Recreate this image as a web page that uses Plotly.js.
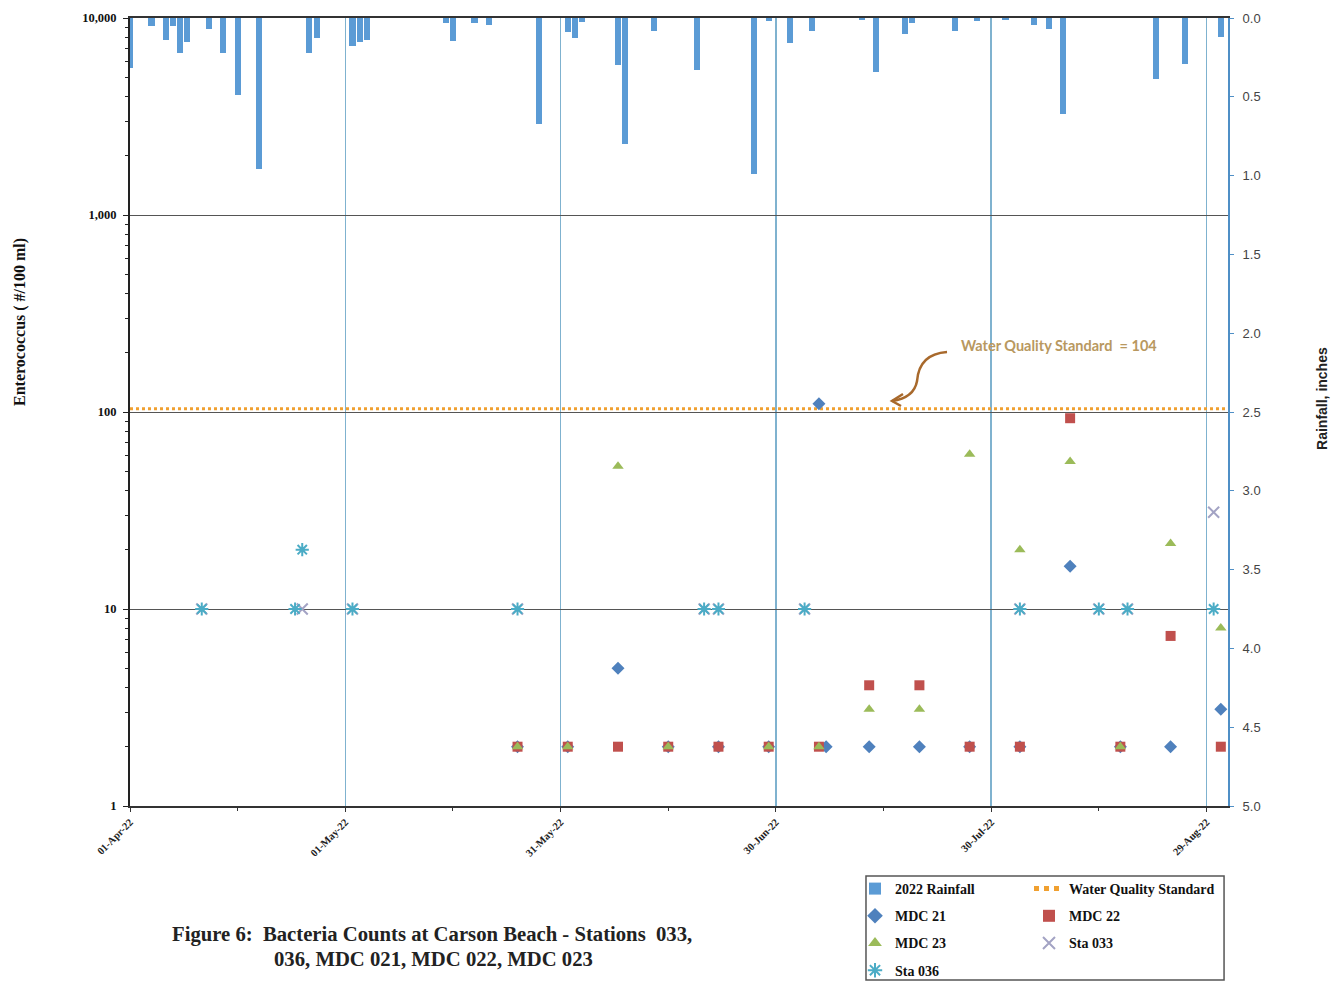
<!DOCTYPE html>
<html>
<head>
<meta charset="utf-8">
<script src="https://cdn.plot.ly/plotly-3.0.1.min.js"></script>
<style>html,body{margin:0;padding:0;background:#fff;}#chart{width:1340px;height:982px;}</style>
</head>
<body>
<div id="chart"></div>
<script>
// ---------- DATA ----------
const rainDates = ['2022-04-01','2022-04-04','2022-04-06','2022-04-07','2022-04-08','2022-04-09','2022-04-12','2022-04-14','2022-04-16','2022-04-19','2022-04-26','2022-04-27','2022-05-02','2022-05-03','2022-05-04','2022-05-15','2022-05-16','2022-05-19','2022-05-21','2022-05-28','2022-06-01','2022-06-02','2022-06-03','2022-06-08','2022-06-09','2022-06-13','2022-06-19','2022-06-27','2022-06-29','2022-07-02','2022-07-05','2022-07-12','2022-07-14','2022-07-18','2022-07-19','2022-07-25','2022-07-28','2022-08-01','2022-08-05','2022-08-07','2022-08-09','2022-08-22','2022-08-26','2022-08-31'];
const rainInches = [0.32,0.05,0.14,0.05,0.22,0.15,0.07,0.22,0.49,0.96,0.22,0.13,0.18,0.15,0.14,0.03,0.145,0.03,0.045,0.67,0.09,0.13,0.025,0.30,0.80,0.08,0.33,0.99,0.02,0.16,0.08,0.01,0.34,0.10,0.03,0.085,0.02,0.01,0.045,0.07,0.61,0.39,0.29,0.12];

const wqsDates = ['2022-04-01','2022-09-01'];
const wqsValues = [104,104];

const mdc21Dates = ['2022-05-25','2022-06-01','2022-06-08','2022-06-15','2022-06-22','2022-06-29','2022-07-06','2022-07-07','2022-07-13','2022-07-20','2022-07-27','2022-08-03','2022-08-10','2022-08-17','2022-08-24','2022-08-31'];
const mdc21Values = [2,2,5,2,2,2,110,2,2,2,2,2,16.5,2,2,3.1];

const mdc22Dates = ['2022-05-25','2022-06-01','2022-06-08','2022-06-15','2022-06-22','2022-06-29','2022-07-06','2022-07-13','2022-07-20','2022-07-27','2022-08-03','2022-08-10','2022-08-17','2022-08-24','2022-08-31'];
const mdc22Values = [2,2,2,2,2,2,2,4.1,4.1,2,2,93,2,7.3,2];

const mdc23Dates = ['2022-05-25','2022-06-01','2022-06-08','2022-06-15','2022-06-29','2022-07-06','2022-07-13','2022-07-20','2022-07-27','2022-08-03','2022-08-10','2022-08-17','2022-08-24','2022-08-31'];
const mdc23Values = [2,2,53,2,2,2,3.1,3.1,61,20,56,2,21.5,8];

const sta033Dates = ['2022-04-11','2022-04-25','2022-05-02','2022-05-25','2022-06-20','2022-06-22','2022-07-04','2022-08-03','2022-08-14','2022-08-18','2022-08-30'];
const sta033Values = [10,10,10,10,10,10,10,10,10,10,31];

const sta036Dates = ['2022-04-11','2022-04-24','2022-04-25','2022-05-02','2022-05-25','2022-06-20','2022-06-22','2022-07-04','2022-08-03','2022-08-14','2022-08-18','2022-08-30'];
const sta036Values = [10,10,20,10,10,10,10,10,10,10,10,10];

const xTickDates = ['2022-04-01','2022-05-01','2022-05-31','2022-06-30','2022-07-30','2022-08-29'];
const xTickLabels = ['01-Apr-22','01-May-22','31-May-22','30-Jun-22','30-Jul-22','29-Aug-22'];
const yTickVals = [1,10,100,1000,10000];
const yTickLabels = ['1','10','100','1,000','10,000'];

// ---------- HELPERS ----------
const FW = 1340, FH = 982;
const L = 130, R = 1228, T = 18, B = 806;
const W = R - L, H = B - T;
const px = X => ((X - L) / W).toFixed(4);
const py = Y => ((B - Y) / H).toFixed(4);
const cx = X => X / FW;
const cy = Y => 1 - Y / FH;

const serifBold = (size, color) => ({family: 'Liberation Serif, Times New Roman, serif', size: size, color: color || '#111', weight: 'bold'});

const traces = [
  {type:'bar', name:'2022 Rainfall', x: rainDates, y: rainInches, yaxis:'y2',
   marker:{color:'#5b9bd5', line:{width:0}}, width: 0.85*86400000,
   legend:'legend', legendgroup:'g1', hoverinfo:'x+y'},
  {type:'scatter', mode:'lines', name:'Water Quality Standard', x: wqsDates, y: wqsValues,
   line:{color:'#f0a030', width:3, dash:'dot'}, legend:'legend2', legendgroup:'g2'},
  {type:'scatter', mode:'markers', name:'MDC 21', x: mdc21Dates, y: mdc21Values,
   marker:{symbol:'diamond', size:10, color:'#4f81bd'}, legend:'legend', legendgroup:'g3'},
  {type:'scatter', mode:'markers', name:'MDC 22', x: mdc22Dates, y: mdc22Values,
   marker:{symbol:'square', size:10, color:'#c0504d'}, legend:'legend2', legendgroup:'g4'},
  {type:'scatter', mode:'markers', name:'MDC 23', x: mdc23Dates, y: mdc23Values,
   marker:{symbol:'triangle-up', size:10, color:'#9bbb59'}, legend:'legend', legendgroup:'g5'},
  {type:'scatter', mode:'markers', name:'Sta 033', x: sta033Dates, y: sta033Values,
   marker:{symbol:'x-thin-open', size:11, color:'#a3a3c4', line:{width:2, color:'#a3a3c4'}}, legend:'legend2', legendgroup:'g6'},
  {type:'scatter', mode:'markers', name:'Sta 036', x: sta036Dates, y: sta036Values,
   marker:{symbol:'asterisk-open', size:11, color:'#4bacc6', line:{width:2, color:'#4bacc6'}}, legend:'legend', legendgroup:'g7'}
];

const legendCommon = {
  font: serifBold(14, '#111'), bgcolor:'rgba(0,0,0,0)', borderwidth:0,
  xref:'container', yref:'container',
  xanchor:'left', yanchor:'top', traceorder:'grouped', tracegroupgap:6,
  itemsizing:'constant', orientation:'v'
};

const layout = {
  width:FW, height:FH,
  margin:{l:L, r:FW-R, t:T, b:FH-B, pad:0, autoexpand:false},
  paper_bgcolor:'#ffffff', plot_bgcolor:'#ffffff',
  showlegend:true,
  bargap:0,
  xaxis:{
    type:'date', range:['2022-04-01','2022-09-01'],
    tickmode:'array', tickvals: xTickDates, ticktext: xTickLabels,
    tickangle:-45, tickfont: serifBold(10.5, '#222'),
    showgrid:true, gridcolor:'#7fb2cf', gridwidth:1.5,
    showline:true, linecolor:'#333', linewidth:2, mirror:true,
    ticks:'outside', ticklen:4, tickcolor:'#333',
    minor:{tickmode:'linear', tick0:'2022-04-01', dtick:15*86400000, ticks:'outside', ticklen:3, tickcolor:'#333', showgrid:false},
    zeroline:false, automargin:false
  },
  yaxis:{
    type:'log', range:[0,4],
    tickmode:'array', tickvals: yTickVals, ticktext: yTickLabels,
    tickfont: serifBold(12.5, '#111'), ticklabelstandoff:4,
    showgrid:true, gridcolor:'#555', gridwidth:1,
    showline:true, linecolor:'#222', linewidth:2,
    ticks:'outside', ticklen:5, tickcolor:'#222',
    minor:{ticks:'outside', ticklen:3, tickcolor:'#222', dtick:'D1', showgrid:false},
    zeroline:false, automargin:false
  },
  yaxis2:{
    overlaying:'y', side:'right', range:[5,0], autorange:false,
    tickmode:'linear', tick0:0, dtick:0.5, tickformat:'.1f',
    tickfont:{family:'Liberation Sans, Arial, sans-serif', size:13, color:'#444'},
    ticklabelstandoff:6,
    showgrid:false, zeroline:false,
    showline:true, linecolor:'#4f8fc6', linewidth:2,
    ticks:'outside', ticklen:4, tickcolor:'#4f8fc6', automargin:false
  },
  legend: Object.assign({}, legendCommon, {x: cx(855), y: cy(873)}),
  legend2: Object.assign({}, legendCommon, {x: cx(1029), y: cy(873)}),
  shapes:[
    {type:'rect', xref:'paper', yref:'paper', x0: px(866), x1: px(1224), y0: py(980), y1: py(876),
     line:{color:'#555', width:1.5}, fillcolor:'rgba(0,0,0,0)'},
    {type:'path', xref:'paper', yref:'paper',
     path:`M ${px(947)} ${py(352)} Q ${px(919)} ${py(354)} ${px(917)} ${py(381)} Q ${px(914)} ${py(398)} ${px(892)} ${py(401)}`,
     line:{color:'#a8692c', width:2.5}},
    {type:'path', xref:'paper', yref:'paper',
     path:`M ${px(903)} ${py(394)} L ${px(892)} ${py(401)} L ${px(901)} ${py(406)}`,
     line:{color:'#a8692c', width:2.5}}
  ],
  annotations:[
    {xref:'paper', yref:'paper', x: px(20), y: py(322), text:'Enterococcus ( #/100 ml)', textangle:-90,
     showarrow:false, font: serifBold(16, '#111'), xanchor:'center', yanchor:'middle'},
    {xref:'paper', yref:'paper', x: px(1322), y: py(398), text:'Rainfall, inches', textangle:-90,
     showarrow:false, font:{family:'Liberation Sans Narrow, Arial Narrow, sans-serif', size:14, color:'#222', weight:'bold'},
     xanchor:'center', yanchor:'middle'},
    {xref:'paper', yref:'paper', x: px(1059), y: py(345), text:'Water Quality Standard&nbsp;&nbsp;= 104',
     showarrow:false, font:{family:'Lato, sans-serif', size:14.5, color:'#b89860', weight:'bold'},
     xanchor:'center', yanchor:'middle'},
    {xref:'paper', yref:'paper', x: px(432), y: py(935), text:'Figure 6:&nbsp;&nbsp;Bacteria Counts at Carson Beach - Stations&nbsp;&nbsp;033,',
     showarrow:false, font: serifBold(20.7, '#222'), xanchor:'center', yanchor:'middle'},
    {xref:'paper', yref:'paper', x: px(433), y: py(959), text:'036, MDC 021, MDC 022, MDC 023',
     showarrow:false, font: serifBold(20.7, '#222'), xanchor:'center', yanchor:'middle'}
  ]
};

Plotly.newPlot('chart', traces, layout, {displayModeBar:false, staticPlot:true});
</script>
</body>
</html>
